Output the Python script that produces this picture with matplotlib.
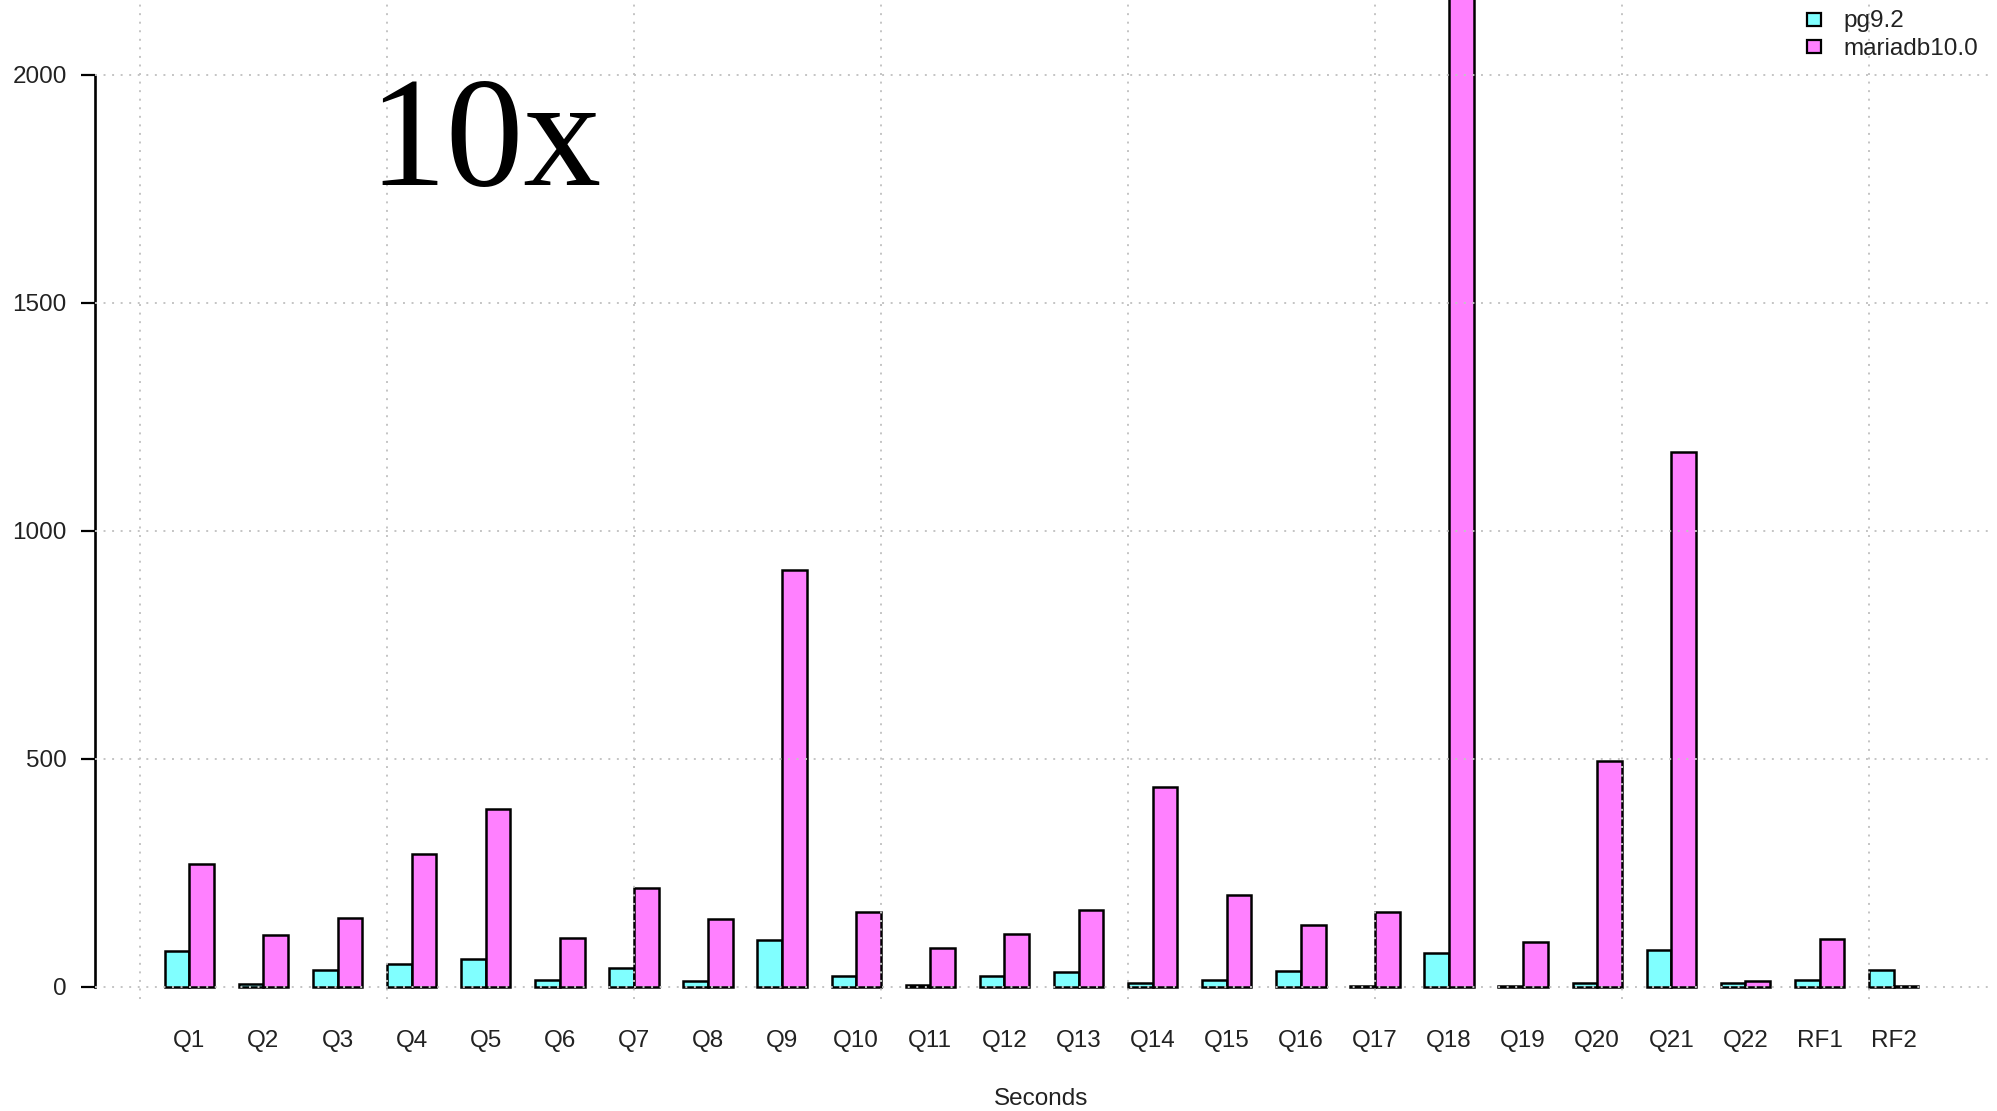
import matplotlib
matplotlib.use("Agg")
import matplotlib.pyplot as plt
from matplotlib.patches import Rectangle
import numpy as np

categories = ["Q1", "Q2", "Q3", "Q4", "Q5", "Q6", "Q7", "Q8", "Q9", "Q10", "Q11", "Q12",
              "Q13", "Q14", "Q15", "Q16", "Q17", "Q18", "Q19", "Q20", "Q21", "Q22", "RF1", "RF2"]
pg92 = [78, 5, 36, 50, 61, 15, 42, 13, 102, 24, 3, 24,
        32, 8, 15, 35, 1, 74, 1, 8, 80, 9, 15, 37]
mariadb100 = [270, 113, 151, 290, 389, 107, 217, 148, 914, 164, 85, 116,
              169, 438, 200, 136, 164, 2300, 97, 494, 1172, 12, 105, 1]
series_names = ["pg9.2", "mariadb10.0"]
y_ticks = [0, 500, 1000, 1500, 2000]
x_grid = [0, 10, 20, 30, 40, 50, 60, 70]

W, H = 1997, 1111
fig = plt.figure(figsize=(W / 100, H / 100), dpi=100)
plt.rcParams['font.family'] = ['Liberation Sans', 'DejaVu Sans']
FS = 17.5

left, right, bottom, top = 94.5 / W, 1988.5 / W, (H - 999) / H, 1.0
ax = fig.add_axes([left, bottom, right - left, top - bottom])

cyan = "#80FFFF"
pink = "#FF80FF"
n = len(categories)
idx = np.arange(n)
pos_pg = 3 * idx + 1
pos_ma = 3 * idx + 2
ax.bar(pos_pg, pg92, width=1, align='edge', color=cyan, edgecolor='black', linewidth=1.8, zorder=2)
ax.bar(pos_ma, mariadb100, width=1, align='edge', color=pink, edgecolor='black', linewidth=1.8, zorder=2)

ax.set_xlim(-1.84, 74.84)
ax.set_ylim(-27, 2164)

# grid (drawn on top like R's grid())
gstyle = dict(color="#c4c4c4", linewidth=1.4, linestyle=(0, (1, 3.4)), zorder=3)
for gx in x_grid:
    ax.axvline(gx, **gstyle)
for gy in y_ticks:
    ax.axhline(gy, **gstyle)

for s in ["top", "right", "bottom"]:
    ax.spines[s].set_visible(False)
ax.spines["left"].set_bounds(0, 2000)
ax.spines["left"].set_linewidth(1.9)

ax.set_yticks(y_ticks)
ax.set_yticklabels([str(v) for v in y_ticks], fontsize=FS)
ax.tick_params(axis='y', length=10, width=1.6, pad=10, labelcolor='#222222')

ax.set_xticks(3 * idx + 2)
ax.set_xticklabels(categories, fontsize=FS, color='#222222')
ax.tick_params(axis='x', length=0, pad=22)

fig.text(1041 / W, 1 - 1099 / H, "Seconds", ha='center', va='center', fontsize=FS, color='#222222')

fig.text(485 / W, 1 - 185 / H, "10x", ha='center', va='baseline', fontsize=112,
         family=['Liberation Serif', 'DejaVu Serif'], color='black')

# legend
colors = [cyan, pink]
sq_y = [19.5, 46.5]
base_y = [27, 55]
for name, c, yc, yb in zip(series_names, colors, sq_y, base_y):
    fig.add_artist(Rectangle(((1813.5 - 7) / W, 1 - (yc + 6.5) / H), 14 / W, 13 / H,
                             transform=fig.transFigure, facecolor=c, edgecolor='black', linewidth=1.6))
    fig.text(1843 / W, 1 - yb / H, name, ha='left', va='baseline', fontsize=FS, color='#222222')

fig.savefig("out.png", dpi=100)
